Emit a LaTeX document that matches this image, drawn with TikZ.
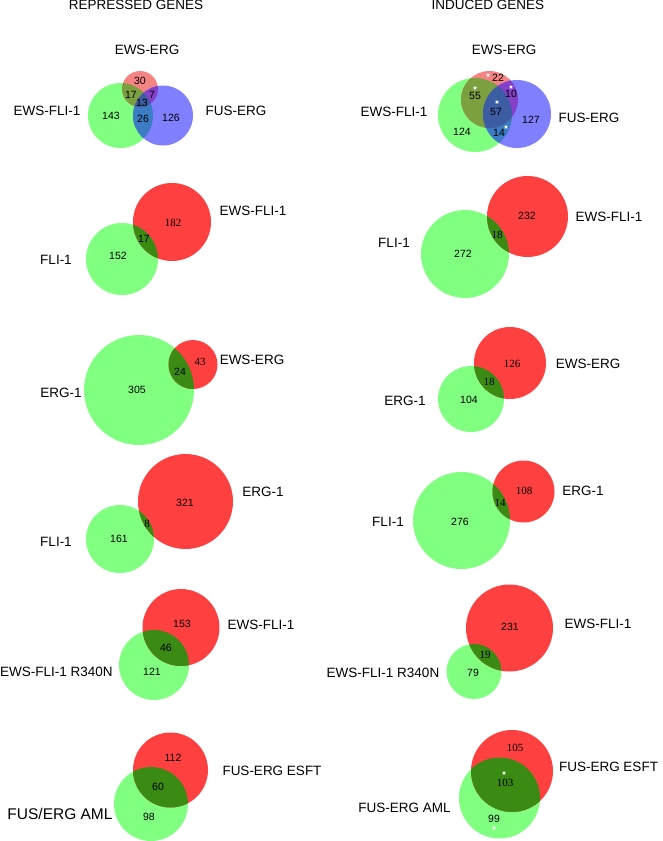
\documentclass[tikz,border=0pt]{standalone}
\usepackage{fontspec}
\setmainfont{Liberation Sans}
\newfontfamily\serifnum{Liberation Serif}
\usetikzlibrary{shapes.geometric}
\definecolor{vred}{HTML}{FF4040}
\definecolor{vgreen}{HTML}{80FF80}
\definecolor{vboth}{HTML}{3A8A14}
\definecolor{tred}{HTML}{F48484}
\definecolor{tgreen}{HTML}{80FF80}
\definecolor{tblue}{HTML}{8080FF}
\definecolor{tRG}{HTML}{7CA040}
\definecolor{tRB}{HTML}{8440C8}
\definecolor{tGB}{HTML}{3C7CC4}
\definecolor{tRGB}{HTML}{3C5CA4}
\tikzset{
  lab/.style={font=\fontsize{13.5}{16}\selectfont, inner sep=0},
  biglab/.style={font=\fontsize{15.5}{18}\selectfont, inner sep=0},
  num/.style={font=\fontsize{10.5}{12}\selectfont, inner sep=0},
  snum/.style={font=\serifnum\fontsize{11}{12}\selectfont, inner sep=0},
  wstar/.style={star, star points=5, star point ratio=2.4, fill=white, inner sep=0, minimum size=4.5pt},
}
% green centre, green radius, red centre, red radius
\newcommand\vennTwo[6]{%
  \fill[vgreen] (#1,#2) circle (#3);
  \fill[vred] (#4,#5) circle (#6);
  \begin{scope}
    \clip (#1,#2) circle (#3);
    \fill[vboth] (#4,#5) circle (#6);
  \end{scope}
}
% red, green, blue centres and radii
\newcommand\vennThree[9]{%
  \fill[tgreen] (#4,#5) circle (#6);
  \fill[tred] (#1,#2) circle (#3);
  \fill[tblue] (#7,#8) circle (#9);
  \begin{scope}
    \clip (#4,#5) circle (#6);
    \fill[tGB] (#7,#8) circle (#9);
  \end{scope}
  \begin{scope}
    \clip (#1,#2) circle (#3);
    \fill[tRG] (#4,#5) circle (#6);
    \fill[tRB] (#7,#8) circle (#9);
    \clip (#4,#5) circle (#6);
    \fill[tRGB] (#7,#8) circle (#9);
  \end{scope}
}
\begin{document}
\begin{tikzpicture}[x=1pt,y=-1pt]
\useasboundingbox (0,0) rectangle (662,841);

% ---------------- titles
\node[lab] (t1) at (136,5) {REPRESSED GENES};
\node[lab] (t2) at (488,5) {INDUCED GENES};

% ---------------- panel 1 left
\vennThree{140}{89}{18}{120.5}{115.5}{32.5}{163}{115.5}{30}
\node[lab] (l1a) at (147,50) {EWS-ERG};
\node[lab] (l1b) at (47,111) {EWS-FLI-1};
\node[lab] (l1c) at (236,111) {FUS-ERG};
\node[num] (n1a) at (140,81) {30};
\node[num] (n1b) at (131,95) {17};
\node[num] (n1c) at (152,95) {7};
\node[num] (n1d) at (142,103) {13};
\node[num] (n1e) at (111,116) {143};
\node[num] (n1f) at (143,119) {26};
\node[num] (n1g) at (171,118) {126};

% ---------------- panel 1 right
\vennThree{489.5}{99.5}{28.5}{475}{115}{37}{517}{114}{34}
\node[lab] (r1a) at (504,50) {EWS-ERG};
\node[lab] (r1b) at (394,112) {EWS-FLI-1};
\node[lab] (r1c) at (589,118) {FUS-ERG};
\node[num] (m1a) at (498,78) {22};
\node[num] (m1b) at (475,96) {55};
\node[num] (m1c) at (511,94) {10};
\node[num] (m1d) at (496,112) {57};
\node[num] (m1e) at (531,120) {127};
\node[num] (m1f) at (462,132) {124};
\node[num] (m1g) at (499,133) {14};
\node[wstar] (s1) at (488,75) {};
\node[wstar] (s2) at (475,88) {};
\node[wstar] (s3) at (511,87) {};
\node[wstar] (s4) at (497,102) {};
\node[wstar] (s5) at (506,127) {};

% ---------------- panel 2
\vennTwo{122}{259}{36}{172}{222}{39}
\node[lab] (l2a) at (253,211) {EWS-FLI-1};
\node[lab] (l2b) at (56,260) {FLI-1};
\node[snum] (n2a) at (173,223) {182};
\node[num] (n2b) at (144,239) {17};
\node[num] (n2c) at (118,256) {152};

\vennTwo{465}{254}{44}{527.5}{216.5}{40.5}
\node[lab] (r2a) at (609,217) {EWS-FLI-1};
\node[lab] (r2b) at (394,243) {FLI-1};
\node[num] (m2a) at (527,216) {232};
\node[snum] (m2b) at (497,235) {18};
\node[num] (m2c) at (463,254) {272};

% ---------------- panel 3
\vennTwo{139}{390}{55}{193}{364.5}{24.5}
\node[lab] (l3a) at (252,360) {EWS-ERG};
\node[lab] (l3b) at (61,393) {ERG-1};
\node[snum] (n3a) at (200,362) {43};
\node[num] (n3b) at (180,372) {24};
\node[num] (n3c) at (137,390) {305};

\vennTwo{471}{399}{33}{510}{363}{36}
\node[lab] (r3a) at (588,364) {EWS-ERG};
\node[lab] (r3b) at (405,401) {ERG-1};
\node[snum] (m3a) at (512,364) {126};
\node[snum] (m3b) at (489,382) {18};
\node[num] (m3c) at (469,400) {104};

% ---------------- panel 4
\vennTwo{120}{539}{34}{185.5}{501.5}{47.5}
\node[lab] (l4a) at (263,492) {ERG-1};
\node[lab] (l4b) at (56,542) {FLI-1};
\node[num] (n4a) at (185,503) {321};
\node[snum] (n4b) at (147,524) {8};
\node[num] (n4c) at (119,539) {161};

\vennTwo{461.5}{520.5}{48.5}{523.5}{491.5}{31}
\node[lab] (r4a) at (583,491) {ERG-1};
\node[lab] (r4b) at (388,522) {FLI-1};
\node[snum] (m4a) at (524,491) {108};
\node[snum] (m4b) at (500,503) {14};
\node[num] (m4c) at (460,522) {276};

% ---------------- panel 5
\vennTwo{154}{665}{35}{181}{627.5}{38.5}
\node[lab] (l5a) at (261,625) {EWS-FLI-1};
\node[lab] (l5b) at (56.5,672) {EWS-FLI-1 R340N};
\node[num] (n5a) at (182,624) {153};
\node[num] (n5b) at (166,648) {46};
\node[num] (n5c) at (152,672) {121};

\vennTwo{474}{671.5}{27.5}{509.5}{628}{43.5}
\node[lab] (r5a) at (598,624) {EWS-FLI-1};
\node[lab] (r5b) at (383,673) {EWS-FLI-1 R340N};
\node[num] (m5a) at (510,627) {231};
\node[snum] (m5b) at (485,655) {19};
\node[num] (m5c) at (473,673) {79};

% ---------------- panel 6
\vennTwo{151}{804}{37}{170.5}{770}{37.5}
\node[lab] (l6a) at (272,771) {FUS-ERG ESFT};
\node[biglab] (l6b) at (60,814) {FUS/ERG AML};
\node[num] (n6a) at (173,758) {112};
\node[num] (n6b) at (158,787) {60};
\node[num] (n6c) at (149,817) {98};

\vennTwo{499.5}{798}{40.5}{512}{771}{41}
\node[lab] (r6a) at (608.5,767) {FUS-ERG ESFT};
\node[lab] (r6b) at (404.5,808) {FUS-ERG AML};
\node[snum] (m6a) at (515,748) {105};
\node[snum] (m6b) at (505,783) {103};
\node[num] (m6c) at (494,819) {99};
\node[wstar] (s6) at (504,773) {};
\node[wstar] (s7) at (494,828) {};
\end{tikzpicture}
\end{document}
